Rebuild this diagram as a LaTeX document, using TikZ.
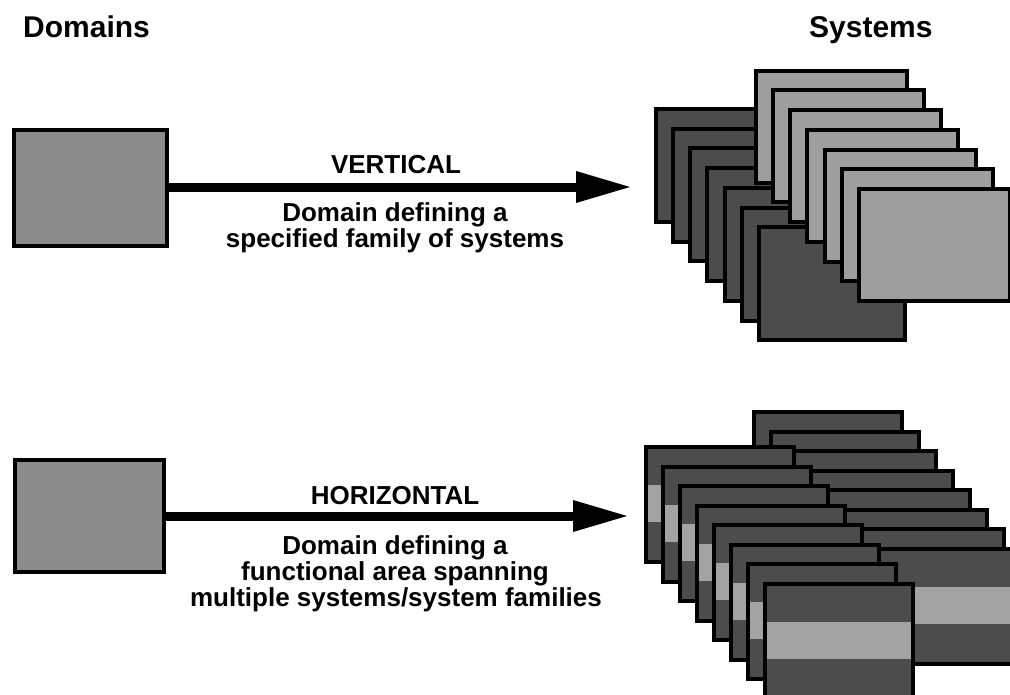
\documentclass[tikz,border=0pt]{standalone}
\usepackage{fontspec}
\setmainfont{Liberation Sans}
\usetikzlibrary{arrows.meta}

\definecolor{boxFill}{gray}{0.55}
\definecolor{cardLight}{gray}{0.62}
\definecolor{cardDark}{gray}{0.30}
\definecolor{bandFill}{gray}{0.64}

\tikzset{
  heading/.style={font=\bfseries\fontsize{30}{30}\selectfont, inner sep=0pt, anchor=base west},
  caption/.style={font=\bfseries\fontsize{26}{26}\selectfont, inner sep=0pt, anchor=base},
  frame/.style={draw=black, line width=4pt, rectangle, inner sep=0pt, anchor=north west},
  domainbox/.style={frame, fill=boxFill},
  lightcard/.style={frame, fill=cardLight, minimum width=151pt, minimum height=112pt},
  darkcard/.style={frame, fill=cardDark, minimum width=146pt, minimum height=113pt},
  bandcard/.style={frame, fill=cardDark, minimum width=148pt, minimum height=115pt,
    path picture={\fill[bandFill]
      ([yshift=-38pt]path picture bounding box.north west) rectangle
      ([yshift=-75pt]path picture bounding box.north east);}},
  bigarrow/.style={line width=9pt,
    -{Triangle[length=54pt,width=32pt,line width=0pt]}},
}

\begin{document}
\begin{tikzpicture}[x=1pt,y=-1pt]
  \clip (0,0) rectangle (1010,694);
  \fill[white] (0,0) rectangle (1010,694);

  % column headings
  \node[heading] (hdom) at (23,37) {Domains};
  \node[heading] (hsys) at (809,37) {Systems};

  % ---- vertical domain ----
  \node[domainbox, minimum width=153pt, minimum height=116pt] (dom1) at (12,128) {};

  % back stack of dark systems
  \foreach \k in {0,...,6}
    \node[darkcard] (vd\k) at ({653.7+17.2*\k},{107+19.7*\k}) {};
  % front stack of light systems
  \foreach \k in {0,...,6}
    \node[lightcard] (vl\k) at ({753.7+17.2*\k},{68.7+19.7*\k}) {};

  \coordinate (tip1) at (630,187);
  \draw[bigarrow] (dom1.east |- tip1) -- (tip1);

  \node[caption] (vname) at (396,173) {VERTICAL};
  \node[caption] (vdesc1) at (395,221) {Domain defining a};
  \node[caption] (vdesc2) at (395,247) {specified family of systems};

  % ---- horizontal domain ----
  \node[domainbox, minimum width=149pt, minimum height=112pt] (dom2) at (13,458) {};

  % rear row of banded systems
  \foreach \k in {0,...,7}
    \node[bandcard] (hr\k) at ({752+17*\k},{410.3+19.5*\k}) {};
  % front row of banded systems
  \foreach \k in {0,...,7}
    \node[bandcard] (hf\k) at ({643.7+17*\k},{445.3+19.5*\k}) {};

  \coordinate (tip2) at (627,516);
  \draw[bigarrow] (dom2.east |- tip2) -- (tip2);

  \node[caption] (hname) at (395,504) {HORIZONTAL};
  \node[caption] (hdesc1) at (395,554) {Domain defining a};
  \node[caption] (hdesc2) at (395,580) {functional area spanning};
  \node[caption] (hdesc3) at (396,606) {multiple systems/system families};
\end{tikzpicture}
\end{document}
